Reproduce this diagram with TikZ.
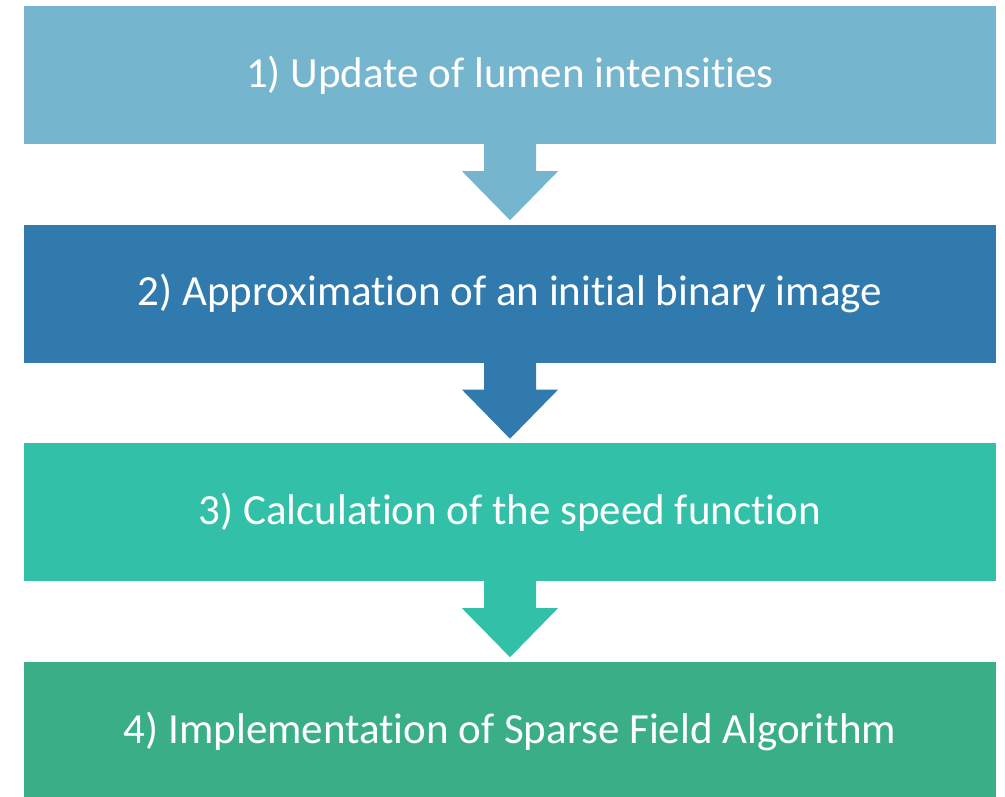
\documentclass[tikz,border=0pt]{standalone}
\usepackage{fontspec}
\setmainfont{Carlito}[Ligatures=NoCommon]
\usetikzlibrary{calc}
\definecolor{stepA}{RGB}{117,181,206}
\definecolor{stepB}{RGB}{49,122,174}
\definecolor{stepC}{RGB}{50,192,168}
\definecolor{stepD}{RGB}{58,175,135}
\tikzset{
  stepbox/.style={minimum width=972pt, minimum height=138pt, inner sep=0pt,
    text=white, font=\fontsize{43}{50}\selectfont},
}
\newcommand{\downarrowbox}[2]{%
  \fill[#2] ($(#1.south)+(-26,-1)$) -- ($(#1.south)+(-26,27)$) -- ($(#1.south)+(-48,27)$)
    -- ($(#1.south)+(0,76)$) -- ($(#1.south)+(48,27)$) -- ($(#1.south)+(26,27)$)
    -- ($(#1.south)+(26,-1)$) -- cycle;}
\begin{document}
\begin{tikzpicture}[x=1pt, y=-1pt]
  \useasboundingbox (0,0) rectangle (1005,796);
  \clip (0,0) rectangle (1005,796);

  \node[stepbox, fill=stepA] (s1) at (510,75) {1) Update of lumen intensities};
  \node[stepbox, fill=stepB] (s2) at (510,293.5) {2) Approximation of an initial binary image};
  \node[stepbox, fill=stepC] (s3) at (510,512) {3) Calculation of the speed function};
  \node[stepbox, fill=stepD] (s4) at (510,731) {4) Implementation of Sparse Field Algorithm};

  \downarrowbox{s1}{stepA}
  \downarrowbox{s2}{stepB}
  \downarrowbox{s3}{stepC}
\end{tikzpicture}
\end{document}
